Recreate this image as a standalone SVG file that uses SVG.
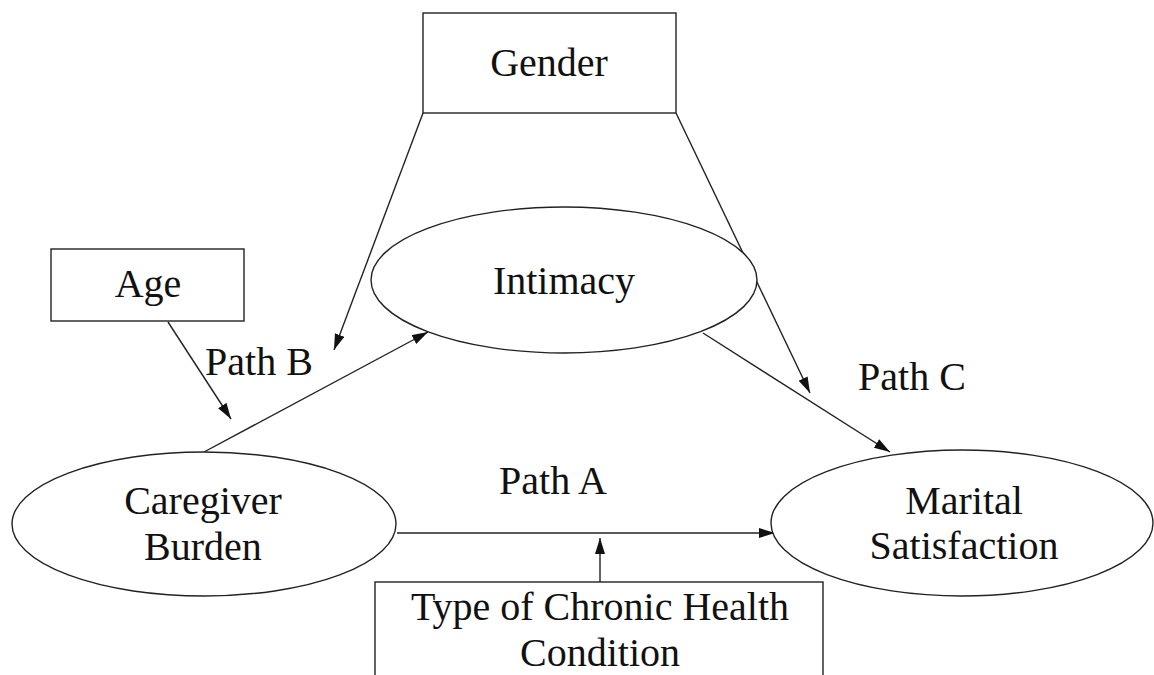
<svg xmlns="http://www.w3.org/2000/svg" width="1154" height="675" viewBox="0 0 1154 675">
<style>
.shape{fill:#fff;stroke:#222;stroke-width:1.4}
.lbl{font-family:"Liberation Serif","Times New Roman",serif;font-size:40px;fill:#111;text-anchor:middle}
.edge{stroke:#222;stroke-width:1.4;fill:none;marker-end:url(#arr)}
</style>
<defs>
<marker id="arr" markerUnits="userSpaceOnUse" markerWidth="18" markerHeight="12" refX="16" refY="5" orient="auto">
<path d="M0,0 L16,5 L0,10 Z" fill="#111"/>
</marker>
</defs>
<rect width="1154" height="675" fill="#fff"/>
<g id="connectors">
<line class="edge" x1="423" y1="113" x2="334" y2="350"/>
<line class="edge" x1="676" y1="113" x2="810" y2="393"/>
<line class="edge" x1="168" y1="322" x2="231" y2="419"/>
<line class="edge" x1="204" y1="452" x2="428" y2="332"/>
<line class="edge" x1="703" y1="333" x2="890" y2="452"/>
<line class="edge" x1="397" y1="533" x2="775" y2="533"/>
<line class="edge" x1="600" y1="582" x2="600" y2="538"/>
</g>
<g id="gender"><rect class="shape" x="423" y="13" width="253" height="100"/><text class="lbl" x="549" y="76">Gender</text></g>
<g id="age"><rect class="shape" x="51" y="249" width="193" height="72"/><text class="lbl" x="148" y="297">Age</text></g>
<g id="intimacy"><ellipse class="shape" cx="564" cy="280" rx="193" ry="73"/><text class="lbl" x="564" y="294">Intimacy</text></g>
<g id="caregiver"><ellipse class="shape" cx="204" cy="524" rx="192" ry="72"/><text class="lbl" x="203" y="514">Caregiver</text><text class="lbl" x="203" y="560">Burden</text></g>
<g id="marital"><ellipse class="shape" cx="962" cy="523" rx="191" ry="73"/><text class="lbl" x="964" y="514">Marital</text><text class="lbl" x="964" y="559">Satisfaction</text></g>
<g id="chronic"><rect class="shape" x="375" y="582" width="448" height="110"/><text class="lbl" x="600" y="620">Type of Chronic Health</text><text class="lbl" x="600" y="666">Condition</text></g>
<g id="labels">
<text class="lbl" x="259" y="375">Path B</text>
<text class="lbl" x="912" y="390">Path C</text>
<text class="lbl" x="553" y="494">Path A</text>
</g>
</svg>
